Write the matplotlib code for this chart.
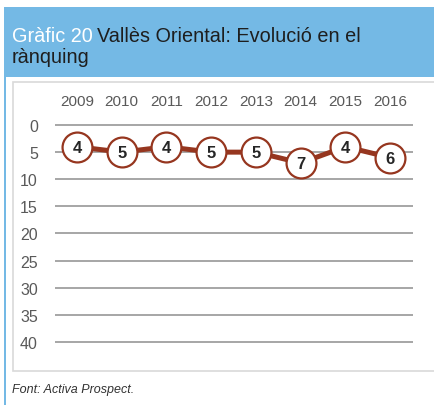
import matplotlib
matplotlib.use('Agg')
import matplotlib.pyplot as plt
from matplotlib.patches import Rectangle

# data
years = ['2009', '2010', '2011', '2012', '2013', '2014', '2015', '2016']
ranking = [4, 5, 4, 5, 5, 7, 4, 6]
y_ticks = [0, 5, 10, 15, 20, 25, 30, 35, 40]

W, H = 434, 406
plt.rcParams['font.family'] = ['Liberation Sans', 'DejaVu Sans']

fig = plt.figure(figsize=(W / 100, H / 100), dpi=100)
fig.patch.set_facecolor('white')

def px(x, y, w, h):
    # pixel box (top-left origin) -> figure fraction
    return [x / W, 1 - (y + h) / H, w / W, h / H]

blue = '#74b9e5'
red = '#96361f'
# header band + left blue border
fig.add_artist(Rectangle((4 / W, 1 - 78 / H), 1, 70 / H, transform=fig.transFigure,
                         facecolor=blue, edgecolor='none', zorder=-5))
fig.add_artist(Rectangle((4 / W, 0), 2 / W, 1 - 78 / H, transform=fig.transFigure,
                         facecolor=blue, edgecolor='none', zorder=-5))
# inner chart box
fig.add_artist(Rectangle((12.5 / W, 1 - 372 / H), 422 / W, 289 / H, transform=fig.transFigure,
                         facecolor='white', edgecolor='#d9d9d9', linewidth=1.2, zorder=-4))

# title
fig.text(12 / W, 1 - 42 / H, 'Gràfic 20', color='white', fontsize=14.3, va='baseline')
fig.text(97 / W, 1 - 42 / H, 'Vallès Oriental: Evolució en el', color='#1e1e1e',
         fontsize=14.3, va='baseline')
fig.text(12 / W, 1 - 63 / H, 'rànquing', color='#1e1e1e', fontsize=14.3, va='baseline')

# footer
fig.text(12 / W, 1 - 390 / H, 'Font: Activa Prospect.', color='#333333', fontsize=9,
         style='italic', va='center')

# plot area: category spacing ~44.7px, 5.425px per rank unit
ax = fig.add_axes(px(54.6, 120.6, 358, 227.8))
ax.set_facecolor('none')
x = list(range(len(years)))
ax.set_xlim(-0.5, len(years) - 0.5)
ax.set_ylim(41, -1)

for v in y_ticks:
    ax.axhline(v, color='#a6a6a6', linewidth=1.4, zorder=1)

ax.plot(x, ranking, color=red, linewidth=3.6, zorder=2,
        marker='o', markersize=21.5, markerfacecolor='white',
        markeredgecolor=red, markeredgewidth=1.6)
for xi, v in zip(x, ranking):
    ax.text(xi, v + 0.15, str(v), ha='center', va='center', fontsize=12,
            fontweight='bold', color='#262626', zorder=3)

ax.set_xticks(x)
ax.set_xticklabels(years)
ax.xaxis.tick_top()
ax.set_yticks(y_ticks)
ax.tick_params(axis='x', length=0, pad=8, labelsize=11, labelcolor='#595959')
ax.tick_params(axis='y', length=0, pad=12, labelsize=11.5, labelcolor='#595959')
for s in ax.spines.values():
    s.set_visible(False)

fig.savefig('out.png', dpi=100)
